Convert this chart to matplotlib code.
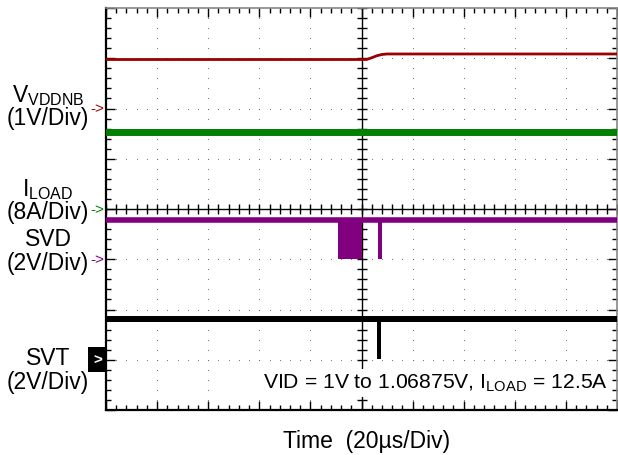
import numpy as np
import matplotlib.pyplot as plt

plt.rcParams['font.family'] = ['Liberation Sans', 'DejaVu Sans']
plt.rcParams['mathtext.fontset'] = 'custom'
plt.rcParams['mathtext.rm'] = 'Liberation Sans'

# time axis: 20us/div, 10 div, trigger at centre
t_min, t_max = -100, 100

# V_VDDNB (V), 1V/div, ref at +2 div
vddnb_t = [-100, 2, 4, 6, 8, 10, 100]
vddnb_v = [0.975, 0.975, 1.01, 1.05, 1.075, 1.085, 1.085]
# I_LOAD (A), 8A/div, ref at 0 div
iload_t = [-100, 100]
iload_a = [12.3, 12.3]
# SVD (V), 2V/div, ref at -1 div : idle high level + low intervals (data burst, pulse)
svd_high = 1.55
svd_low = 0.0
svd_lows = [(-9.2, 0.2), (6.6, 8.1)]
# SVT (V), 2V/div, ref at -3 div
svt_high = 1.63
svt_low = 0.02
svt_lows = [(6.1, 7.6)]

chans = {
    'vddnb': dict(off=2, scale=1, color='#990000'),
    'iload': dict(off=0, scale=8, color='#008000'),
    'svd': dict(off=-1, scale=2, color='#800080'),
    'svt': dict(off=-3, scale=2, color='black'),
}

def div(name, vals):
    c = chans[name]
    return c['off'] + np.asarray(vals) / c['scale']

fig = plt.figure(figsize=(6.18, 4.56), dpi=100)
ax = fig.add_axes([106/618, 45/456, 511/618, 402/456])
ax.set_xlim(t_min, t_max)
ax.set_ylim(-4, 4)

# graticule dots
xmaj = np.arange(-100, 101, 20)
ymaj = np.arange(-4, 5, 1)
xmin = np.arange(-100, 101, 4)
ymin = np.arange(-4, 4.01, 0.2)
gx, gy = np.meshgrid(xmin, ymaj)
ax.scatter(gx.ravel(), gy.ravel(), s=0.6, color='#666666', lw=0, zorder=1)
gx, gy = np.meshgrid(xmaj, ymin)
ax.scatter(gx.ravel(), gy.ravel(), s=0.6, color='#666666', lw=0, zorder=1)

# centre cross with ticks
ax.axvline(0, color='black', lw=1, zorder=2)
ax.axhline(0, color='black', lw=1, zorder=2)
ax.plot(np.zeros_like(ymin), ymin, ls='none', marker='_', ms=7, mew=1, color='black', zorder=2)
ax.plot(xmin, np.zeros_like(xmin), ls='none', marker='|', ms=7, mew=1, color='black', zorder=2)

# traces
ax.plot(vddnb_t, div('vddnb', vddnb_v), color=chans['vddnb']['color'], lw=2, zorder=3)
ax.plot(iload_t, div('iload', iload_a), color=chans['iload']['color'], lw=5, zorder=3)

ax.plot([t_min, t_max], div('svd', [svd_high, svd_high]), color=chans['svd']['color'],
        lw=4, solid_capstyle='butt', zorder=3)
for a, b in svd_lows:
    ax.fill_between([a, b], div('svd', svd_low), div('svd', svd_high),
                    color=chans['svd']['color'], lw=0, zorder=3)

ax.plot([t_min, t_max], div('svt', [svt_high, svt_high]), color=chans['svt']['color'],
        lw=4.3, solid_capstyle='butt', zorder=3)
for a, b in svt_lows:
    ax.fill_between([a, b], div('svt', svt_low), div('svt', svt_high),
                    color=chans['svt']['color'], lw=0, zorder=3)

# frame and ticks
ax.set_xticks(xmaj)
ax.set_yticks(ymaj)
ax.set_xticks(xmin, minor=True)
ax.set_yticks(ymin, minor=True)
ax.set_xticklabels([])
ax.set_yticklabels([])
ax.tick_params(which='both', direction='in', top=True, right=True, color='black')
ax.tick_params(which='major', length=6.5, width=1)
ax.tick_params(which='minor', length=3.6, width=1)
for s in ['left', 'bottom']:
    ax.spines[s].set_linewidth(1.6)
for s in ['top', 'right']:
    ax.spines[s].set_color('#888888')
    ax.spines[s].set_linewidth(1.2)

# channel labels
tr = ax.get_yaxis_transform()
lx = -0.1135
labels = [
    ('V$_{\\mathregular{VDDNB}}$', 2.15), ('(1V/Div)', 1.69),
    ('I$_{\\mathregular{LOAD}}$', 0.28), ('(8A/Div)', -0.18),
    ('SVD', -0.72), ('(2V/Div)', -1.19),
    ('SVT', -3.08), ('(2V/Div)', -3.56),
]
for txt, y in labels:
    ax.text(lx, y, txt, transform=tr, ha='center', va='baseline', fontsize=16.5, clip_on=False)

for name in ['vddnb', 'iload', 'svd']:
    ax.text(-0.003, chans[name]['off'], '->', transform=tr, ha='right', va='center',
            fontsize=11, color=chans[name]['color'], clip_on=False)
ax.text(-0.017, chans['svt']['off'], '>', transform=tr, ha='center', va='center',
        fontsize=11, color='white', fontweight='bold', clip_on=False,
        bbox=dict(facecolor='black', edgecolor='none', boxstyle='square,pad=0.35'))

ax.text(-38.6, -3.56, 'VID = 1V to 1.06875V, I$_{\\mathregular{LOAD}}$ = 12.5A', ha='left', va='baseline',
        fontsize=15.2, zorder=5, bbox=dict(facecolor='white', edgecolor='none', pad=2.5))

fig.text(366.5/618, (456-448)/456, 'Time  (20µs/Div)', ha='center', va='baseline', fontsize=16.5)

fig.savefig('out.png', dpi=100)
